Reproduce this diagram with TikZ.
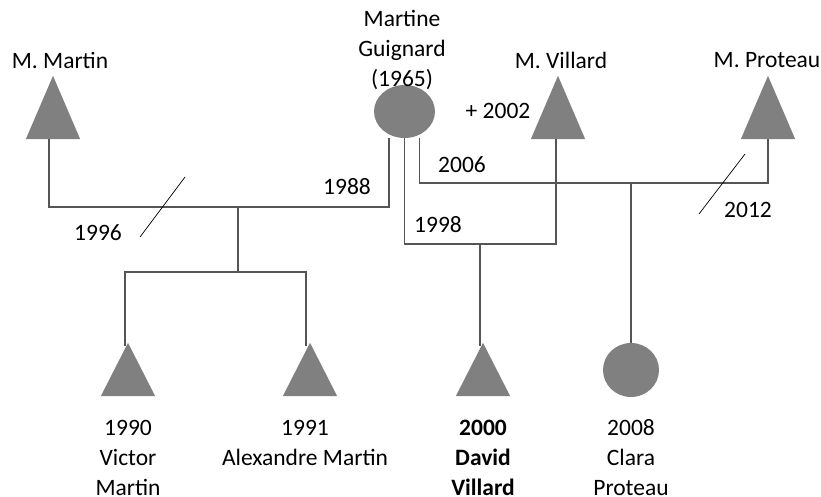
\documentclass[tikz,border=0pt]{standalone}
\usepackage{fontspec}
\setmainfont{Carlito}
\usetikzlibrary{shapes.geometric}

\definecolor{symb}{HTML}{808080}
\definecolor{linec}{HTML}{555555}

\begin{document}
\begin{tikzpicture}[
  x=1pt, y=-1pt,
  font=\fontsize{23.5}{30}\selectfont,
  male/.style={rectangle, inner sep=0pt, minimum width=54pt, minimum height=63pt},
  female/.style={ellipse, fill=symb, inner sep=0pt, minimum width=61pt, minimum height=53pt},
  kin/.style={draw=linec, line width=1.2pt},
  cut/.style={draw=black, line width=0.7pt},
  lbl/.style={align=center, inner sep=0pt}]
\useasboundingbox (0,0) rectangle (821,497);
% parents
\node[male] (martin) at (53,107.5) {};
\node[female] (martine) at (404.5,111.5) {};
\node[male] (villard) at (558,107.5) {};
\node[male] (proteau) at (768,107.5) {};
% children
\node[male, minimum height=53pt] (victor) at (128,369.5) {};
\node[male, minimum height=53pt] (alexandre) at (310,369.5) {};
\node[male, minimum height=53pt] (david) at (483,369.5) {};
\node[female, minimum width=56pt, minimum height=54pt] (clara) at (631,370) {};
% triangles for the men
\foreach \n in {martin,villard,proteau,victor,alexandre,david}
  \fill[symb] (\n.south west) -- (\n.south east) -- (\n.north) -- cycle;
% names
\node[lbl] (martinname) at (60,60) {M. Martin};
\node[lbl] (martinename) at (402,50) {Martine\\Guignard\\(1965)};
\node[lbl] (villardname) at (561,60) {M. Villard};
\node[lbl] (proteauname) at (767,60) {M. Proteau};
\node[lbl] (villarddeath) at (498,111) {+ 2002};
\node[lbl] (victorname) at (128,458) {1990\\Victor\\Martin};
\node[lbl] (alexandrename) at (305,443) {1991\\Alexandre Martin};
\node[lbl, font=\fontsize{23.5}{30}\selectfont\bfseries] (davidname) at (483,458) {2000\\David\\Villard};
\node[lbl] (claraname) at (631,458) {2008\\Clara\\Proteau};
% unions
\coordinate (u1) at (238,207);
\coordinate (s1) at (238,272);
\coordinate (u2) at (480,244);
\coordinate (u3) at (631,183);
\draw[kin] ([xshift=-4pt]martin.south) |- (u1) -| ([xshift=-15.5pt]martine.south);
\draw[kin] (u1) -- (s1);
\draw[kin] ([shift={(-3pt,-3pt)}]victor.north) |- (s1) -| ([shift={(-4pt,-3pt)}]alexandre.north);
\draw[kin] (martine.south) |- (u2) -| ([xshift=-2pt]villard.south);
\draw[kin] (u2) -- ([yshift=-3pt]u2 |- david.north);
\draw[kin] ([xshift=15pt]martine.south) |- (u3) -| (proteau.south);
\draw[kin] (u3) -- (clara);
% years
\node[lbl] (y1988) at (347,187) {1988};
\node[lbl] (y1996) at (98,233) {1996};
\node[lbl] (y2006) at (462,165) {2006};
\node[lbl] (y1998) at (438,225) {1998};
\node[lbl] (y2012) at (748,210) {2012};
% divorces
\draw[cut] (140,237) -- (185,177);
\draw[cut] (699,214) -- (745,154);
\end{tikzpicture}
\end{document}
